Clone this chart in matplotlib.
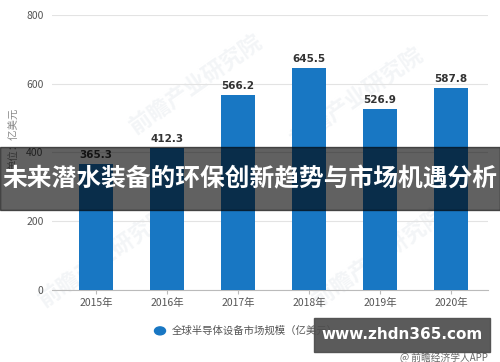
import matplotlib.pyplot as plt
from matplotlib.patches import Rectangle

plt.rcParams['font.family'] = ['Noto Sans CJK SC', 'DejaVu Sans']

years = ["2015年", "2016年", "2017年", "2018年", "2019年", "2020年"]
values = [365.3, 412.3, 566.2, 645.5, 526.9, 587.8]
yticks = [0, 200, 400, 600, 800]
series_name = "全球半导体设备市场规模（亿美元）"
title = "未来潜水装备的环保创新趋势与市场机遇分析"

bar_color = '#1877c3'

fig = plt.figure(figsize=(5, 3.62), dpi=100)
ax = fig.add_axes([0.104, 0.199, 0.872, 0.7596])

x = range(len(years))
ax.bar(x, values, width=0.47, color=bar_color, zorder=3)
for xi, v in zip(x, values):
    ax.text(xi, v + 12, f"{v:.1f}", ha='center', va='bottom', fontsize=7.5,
            fontweight='bold', color='#333333', family='DejaVu Sans')

ax.set_ylim(0, 800)
ax.set_xlim(-0.62, 5.52)
ax.set_yticks(yticks)
ax.set_xticks(list(x))
ax.set_xticklabels(years)
ax.tick_params(axis='y', length=0, labelsize=7.5, labelcolor='#555555', pad=6)
ax.tick_params(axis='x', length=3, color='#bbbbbb', labelsize=7.5, labelcolor='#555555', pad=3)
ax.grid(axis='y', color='#e3e3e3', linewidth=0.8, zorder=0)
for s in ['top', 'right', 'left']:
    ax.spines[s].set_visible(False)
ax.spines['bottom'].set_color('#bbbbbb')
ax.set_ylabel("单位：亿美元", fontsize=7.5, color='#888888')
ax.yaxis.set_label_coords(-0.075, 0.55)

# faint watermark behind the bars
for wx, wy in [(0.33, 0.75), (0.7, 0.7), (0.12, 0.12), (0.75, 0.12)]:
    ax.text(wx, wy, "前瞻产业研究院", transform=ax.transAxes, fontsize=16,
            color='#f3f5f7', rotation=35, ha='center', va='center',
            fontweight='bold', zorder=1, clip_on=False)

# legend
fig.patches.append(plt.Circle((0.32, 0.086), 0.011, transform=fig.transFigure,
                              color=bar_color, figure=fig))
fig.text(0.343, 0.086, series_name, fontsize=7.5, color='#555555', va='center')

# dark title band
fig.patches.append(Rectangle((0, 0.42), 1, 0.174, transform=fig.transFigure,
                             color='black', alpha=0.62, figure=fig, zorder=5))
fig.text(0.5, 0.505, title, fontsize=17.8, fontweight='bold', color='white',
         ha='center', va='center', zorder=6)

# site stamp
fig.patches.append(Rectangle((0.628, 0.028), 0.352, 0.094, transform=fig.transFigure,
                             color='#4d4d4d', alpha=0.92, figure=fig, zorder=5))
fig.text(0.804, 0.075, "www.zhdn365.com", fontsize=11, fontweight='bold',
         color='white', ha='center', va='center', family='DejaVu Sans', zorder=6)
fig.text(0.975, 0.012, "@ 前瞻经济学人APP", fontsize=7, color='#666666',
         ha='right', va='center')

fig.savefig("out.png", dpi=100)
